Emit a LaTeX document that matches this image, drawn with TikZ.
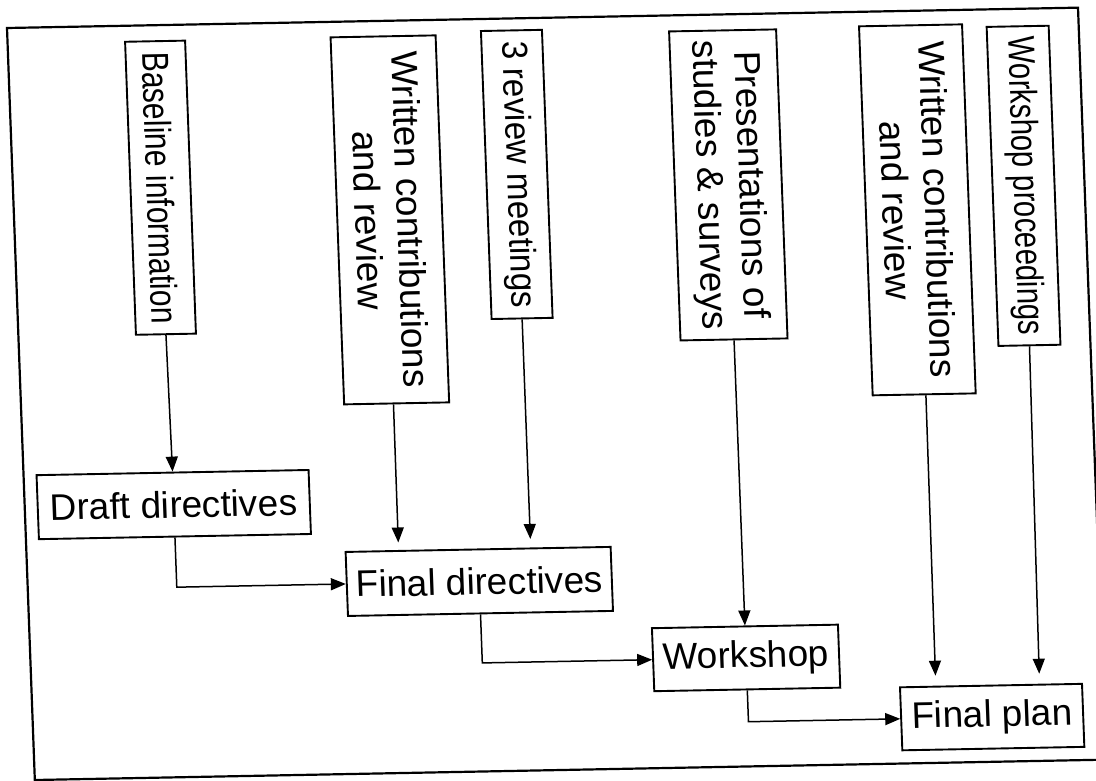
\documentclass[tikz,border=0pt]{standalone}
\usepackage{fontspec}
\setmainfont{Liberation Sans}
\newfontfamily\narrowA[FakeStretch=0.80]{Liberation Sans}
\newfontfamily\narrowB[FakeStretch=0.78]{Liberation Sans}
\newfontfamily\narrowC[FakeStretch=0.92]{Liberation Sans}
\usetikzlibrary{arrows.meta,calc}
\tikzset{
  box/.style={draw, line width=1.9pt, inner sep=0pt, align=center, font=\fontsize{37}{42}\selectfont},
  vbox/.style={box, rotate=-90},
  blfont/.style={font=\narrowA\fontsize{37.5}{42}\selectfont},
  wpfont/.style={font=\narrowB\fontsize{37.5}{42}\selectfont},
  rmfont/.style={font=\narrowC\fontsize{36}{42}\selectfont},
  arr/.style={line width=1.5pt, -{Triangle[length=15pt,width=12pt]}},
  framestyle/.style={line width=2.2pt},
}
\begin{document}
\begin{tikzpicture}[x=1pt,y=1pt]
\useasboundingbox (0,0) rectangle (1096,-780);
\clip (0,0) rectangle (1096,-780);
\begin{scope}[cm={1,0.019,-0.037,1,(7,-28)}, transform shape]
  \draw[framestyle] (0,0) rectangle (1071,-752);
  % vertical boxes
  \node[vbox, blfont, minimum width=293pt, minimum height=60pt] (bl) at (147.5,-162.5) {Baseline information};
  \node[vbox, minimum width=367pt, minimum height=105pt] (wc1) at (375.5,-199) {Written contributions\\and review};
  \node[vbox, rmfont, minimum width=288pt, minimum height=61pt] (rm) at (504,-156) {3 review meetings};
  \node[vbox, minimum width=309pt, minimum height=107pt] (pr) at (715,-170.5) {Presentations of\\studies \& surveys};
  \node[vbox, minimum width=369pt, minimum height=103pt] (wc2) at (903,-199) {Written contributions\\and review};
  \node[vbox, wpfont, minimum width=319pt, minimum height=62pt] (wp) at (1010,-177) {Workshop proceedings};
  % horizontal boxes
  \node[box, minimum width=272pt, minimum height=64pt] (dd) at (149,-479.4) {Draft directives};
  \node[box, minimum width=265pt, minimum height=64pt] (fd) at (451.5,-562) {Final directives};
  \node[box, minimum width=186pt, minimum height=63pt] (ws) at (715.3,-643.5) {Workshop};
  \node[box, minimum width=182pt, minimum height=63pt] (fp) at (959,-707.3) {Final plan};
  \coordinate (e1) at (149,-562);
  \coordinate (e2) at (451.5,-643.5);
  \coordinate (e3) at (715.3,-707.3);
\end{scope}
\draw[arr] (bl.east) -- (dd.north);
\draw[arr] (dd.south) -- (e1) -- (fd.west);
\draw[arr, shorten >=7.5pt] ($(wc1.north east)!0.53!(wc1.south east)$) -- ($(fd.north west)!0.202!(fd.north east)$);
\draw[arr, shorten >=8.5pt] (rm.east) -- ($(fd.north west)!0.697!(fd.north east)$);
\draw[arr] (fd.south) -- (e2) -- (ws.west);
\draw[arr] (pr.east) -- (ws.north);
\draw[arr] (ws.south) -- (e3) -- (fp.west);
\draw[arr, shorten >=10pt] ($(wc2.north east)!0.484!(wc2.south east)$) -- ($(fp.north west)!0.2!(fp.north east)$);
\draw[arr, shorten >=10pt] (wp.east) -- ($(fp.north west)!0.764!(fp.north east)$);
\end{tikzpicture}
\end{document}
